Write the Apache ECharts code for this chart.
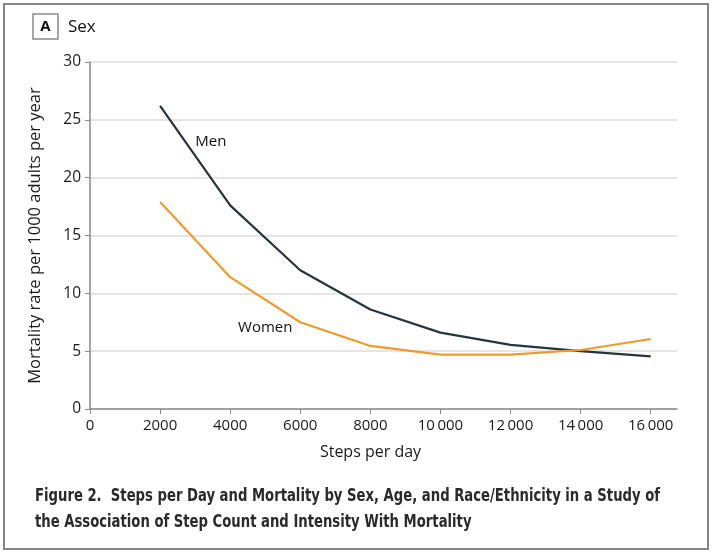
<!DOCTYPE html>
<html><head><meta charset="utf-8">
<script src="https://cdn.jsdelivr.net/npm/echarts@6/dist/echarts.min.js"></script>
<style>html,body{margin:0;padding:0;background:#fff}#c{width:712px;height:554px}</style>
</head><body><div id="c"></div>
<script>
const steps = [2000, 4000, 6000, 8000, 10000, 12000, 14000, 16000];
const men = [26.2, 17.6, 12.0, 8.6, 6.6, 5.55, 5.0, 4.55];
const women = [17.9, 11.4, 7.5, 5.45, 4.7, 4.7, 5.1, 6.05];
const xTicks = [0, 2000, 4000, 6000, 8000, 10000, 12000, 14000, 16000];
const yTicks = [0, 5, 10, 15, 20, 25, 30];
const seriesLabels = [[3450, 23.1, 'Men'], [5000, 7.0, 'Women']];
const caption1 = 'Figure 2.  Steps per Day and Mortality by Sex, Age, and Race/Ethnicity in a Study of';
const caption2 = 'the Association of Step Count and Intensity With Mortality';

const font = '"Open Sans", "Noto Sans", sans-serif';
const capFont = 'bold 17px "DejaVu Sans Condensed", "DejaVu Sans", sans-serif';
const fmt = v => v >= 10000 ? String(Math.floor(v/1000)) + '\u2009' + String(v % 1000).padStart(3,'0') : String(v);

// horizontal squeeze so caption line 1 spans the same width as in the figure
const ctx = document.createElement('canvas').getContext('2d');
ctx.font = capFont;
const capScale = 625 / ctx.measureText(caption1).width;

const chart = echarts.init(document.getElementById('c'));
chart.setOption({
  animation: false,
  grid: {left: 90, right: 35, top: 62, bottom: 145, containLabel: false},
  xAxis: {
    type: 'value', min: 0, max: 16750,
    name: 'Steps per day', nameLocation: 'middle', nameGap: 35,
    nameTextStyle: {fontFamily: font, fontSize: 16, color: '#1a1a1a', padding: [0, 26, 0, 0]},
    axisLine: {show: true, lineStyle: {color: '#8a8a8a', width: 1.5}},
    axisTick: {show: true, length: 5, lineStyle: {color: '#8a8a8a'}, customValues: xTicks},
    axisLabel: {fontFamily: font, fontSize: 15, color: '#1a1a1a', margin: 9, customValues: xTicks, formatter: fmt},
    splitLine: {show: false}
  },
  yAxis: {
    type: 'value', min: 0, max: 30, interval: 5,
    name: 'Mortality rate per 1000 adults per year', nameLocation: 'middle', nameGap: 46,
    nameTextStyle: {fontFamily: font, fontSize: 16.5, color: '#1a1a1a'},
    axisLine: {show: true, lineStyle: {color: '#8a8a8a', width: 1.5}},
    axisTick: {show: true, length: 5, lineStyle: {color: '#8a8a8a'}},
    axisLabel: {fontFamily: font, fontSize: 15.5, color: '#1a1a1a', margin: 9, customValues: yTicks},
    splitLine: {show: true, lineStyle: {color: '#dddddd', width: 1.5}}
  },
  series: [
    {type: 'line', name: 'Men', data: steps.map((s,i)=>[s, men[i]]), symbol: 'none',
     lineStyle: {color: '#27353b', width: 2.2}, itemStyle: {color: '#27353b'}},
    {type: 'line', name: 'Women', data: steps.map((s,i)=>[s, women[i]]), symbol: 'none',
     lineStyle: {color: '#f19a2c', width: 2.2}, itemStyle: {color: '#f19a2c'}},
    {type: 'scatter', name: 'labels', data: seriesLabels, symbolSize: 1, silent: true,
     itemStyle: {color: '#ffffff', opacity: 0},
     label: {show: true, position: 'inside', formatter: p => p.value[2], fontFamily: font, fontSize: 15,
             fontWeight: 500, color: '#111', opacity: 1, textBorderWidth: 0}}
  ],
  graphic: [
    {type: 'rect', shape: {x: 4, y: 4, width: 704, height: 545}, style: {fill: 'none', stroke: '#858585', lineWidth: 2}},
    {type: 'rect', shape: {x: 33, y: 14, width: 25, height: 25}, style: {fill: '#fff', stroke: '#8a8a8a', lineWidth: 1.5}},
    {type: 'text', x: 45.5, y: 27, style: {text: 'A', font: 'bold 15px ' + font, fill: '#111', align: 'center', verticalAlign: 'middle'}},
    {type: 'text', x: 68, y: 27, style: {text: 'Sex', font: '17px ' + font, fill: '#111', align: 'left', verticalAlign: 'middle'}},
    {type: 'text', x: 35, y: 497, scaleX: capScale, style: {text: caption1, font: capFont, fill: '#2a2a2a', align: 'left', verticalAlign: 'middle'}},
    {type: 'text', x: 35, y: 523, scaleX: capScale, style: {text: caption2, font: capFont, fill: '#2a2a2a', align: 'left', verticalAlign: 'middle'}}
  ]
});
</script></body></html>
